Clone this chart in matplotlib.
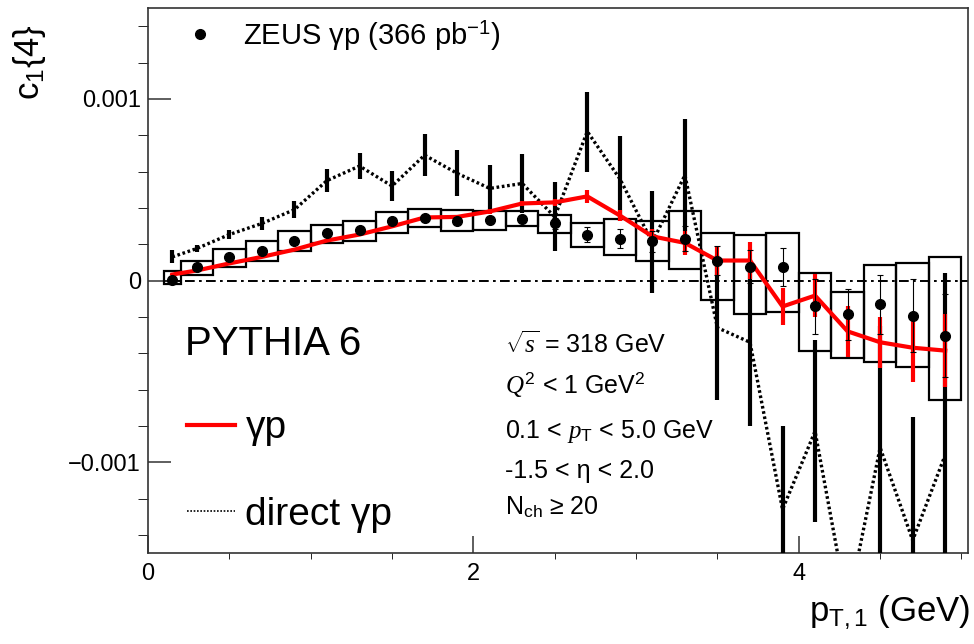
import matplotlib
matplotlib.use("Agg")
import matplotlib.pyplot as plt
from matplotlib.lines import Line2D
from matplotlib.patches import Rectangle
from matplotlib.ticker import MultipleLocator, FuncFormatter

plt.rcParams["font.family"] = ["Liberation Sans", "DejaVu Sans"]
plt.rcParams["mathtext.fontset"] = "custom"
plt.rcParams["mathtext.rm"] = "Liberation Sans"
plt.rcParams["mathtext.sf"] = "Liberation Sans"
plt.rcParams["mathtext.it"] = "Liberation Serif:italic"
plt.rcParams["mathtext.bf"] = "Liberation Sans:bold"

# ── data (c1{4} vs pT,1) ──────────────────────────────────────────────────────
pt     = [0.15, 0.3, 0.5, 0.7, 0.9, 1.1, 1.3, 1.5, 1.7, 1.9, 2.1, 2.3, 2.5,
          2.7, 2.9, 3.1, 3.3, 3.5, 3.7, 3.9, 4.1, 4.3, 4.5, 4.7, 4.9]
bin_lo = [0.1, 0.2, 0.4, 0.6, 0.8, 1.0, 1.2, 1.4, 1.6, 1.8, 2.0, 2.2, 2.4,
          2.6, 2.8, 3.0, 3.2, 3.4, 3.6, 3.8, 4.0, 4.2, 4.4, 4.6, 4.8]
bin_hi = [0.2, 0.4, 0.6, 0.8, 1.0, 1.2, 1.4, 1.6, 1.8, 2.0, 2.2, 2.4, 2.6,
          2.8, 3.0, 3.2, 3.4, 3.6, 3.8, 4.0, 4.2, 4.4, 4.6, 4.8, 5.0]

zeus      = [0.000005, 0.000077, 0.000132, 0.000165, 0.00022, 0.000259,
             0.000276, 0.000325, 0.000342, 0.000325, 0.000331, 0.000336,
             0.000314, 0.000253, 0.000231, 0.000215, 0.00023, 0.00011,
             0.000077, 0.000072, -0.000143, -0.000187, -0.000132, -0.000193,
             -0.000303]
zeus_stat = [0.000005, 0.000005, 0.000006, 0.000007, 0.000008, 0.000009,
             0.00001, 0.000012, 0.000014, 0.000016, 0.00002, 0.000022,
             0.000028, 0.00004, 0.00005, 0.00006, 0.00007, 0.00008, 0.00009,
             0.000105, 0.00015, 0.00014, 0.00016, 0.0002, 0.00023]
sys_hi    = [0.00005, 0.000105, 0.000171, 0.000215, 0.00027, 0.000303,
             0.000325, 0.000375, 0.000391, 0.000386, 0.00038, 0.00038,
             0.000358, 0.000314, 0.000336, 0.000325, 0.00038, 0.000259,
             0.000248, 0.000264, 0.000039, -0.000066, 0.000088, 0.000099,
             0.000127]
sys_lo    = [-0.000022, 0.000028, 0.000077, 0.000105, 0.00016, 0.000204,
             0.00022, 0.000264, 0.000292, 0.00027, 0.000276, 0.000298,
             0.000264, 0.000187, 0.000138, 0.000105, 0.000061, -0.000105,
             -0.000187, -0.000171, -0.000386, -0.000424, -0.000446,
             -0.000474, -0.000656]

pythia     = [0.000033, 0.000055, 0.000094, 0.00013, 0.00017, 0.00022,
              0.000253, 0.000298, 0.000347, 0.00035, 0.00038, 0.000424,
              0.00043, 0.000463, 0.000358, 0.000243, 0.000207, 0.00011,
              0.00011, -0.000143, -0.000083, -0.00028, -0.00034, -0.00037,
              -0.000386]
pythia_err = [0.000004, 0.000005, 0.000006, 0.000007, 0.000008, 0.000009,
              0.00001, 0.000011, 0.000012, 0.000013, 0.000014, 0.000016,
              0.000018, 0.000037, 0.00003, 0.00004, 0.000064, 0.000078,
              0.000104, 0.000104, 0.00012, 0.00014, 0.00014, 0.00019, 0.0002]

direct     = [0.00013, 0.000176, 0.000253, 0.000314, 0.00039, 0.00055,
              0.00063, 0.00052, 0.00069, 0.00059, 0.000507, 0.000534,
              0.00035, 0.00082, 0.00056, 0.00021, 0.00058, -0.00026,
              -0.00034, -0.00126, -0.00083, -0.0018, -0.00092, -0.00143,
              -0.00096]
direct_err = [0.000036, 0.00002, 0.000023, 0.000037, 0.000048, 0.000062,
              0.000074, 0.000085, 0.000115, 0.000126, 0.000129, 0.00016,
              0.00019, 0.00022, 0.000234, 0.00028, 0.00031, 0.0004, 0.00046,
              0.00046, 0.0005, 0.00025, 0.00067, 0.00068, 0.001]

x_ticks = [0, 2, 4]
y_ticks = [-0.001, 0, 0.001]

AXC = "#333333"

fig = plt.figure(figsize=(9.74, 6.44), dpi=100)
ax = fig.add_axes([148 / 974, 91 / 644, 820 / 974, 545 / 644])
ax.set_xlim(0, 5.04)
ax.set_ylim(-0.0015, 0.0015)

# systematic boxes
for lo, hi, b, t in zip(bin_lo, bin_hi, sys_lo, sys_hi):
    ax.add_patch(Rectangle((lo, b), hi - lo, t - b, fill=False,
                           ec="black", lw=1.6, zorder=2))

# zero reference line
ax.hlines(0, bin_lo[0], 5.04, colors="black", lw=1.4,
          linestyles=[(0, (5, 2.2, 1.4, 2.2))], zorder=1)

# PYTHIA direct gamma-p
ax.plot(pt, direct, color="black", lw=2.4, ls=(0, (0.8, 0.8)), zorder=3)
ax.errorbar(pt, direct, yerr=direct_err, fmt="none", ecolor="black",
            elinewidth=3.0, capsize=0, zorder=3)

# PYTHIA gamma-p
ax.plot(pt, pythia, color="#ff0000", lw=3.0, zorder=4)
ax.errorbar(pt, pythia, yerr=pythia_err, fmt="none", ecolor="#ff0000",
            elinewidth=3.0, capsize=0, zorder=4)

# ZEUS data
ax.errorbar(pt, zeus, yerr=zeus_stat, fmt="o", color="black", ms=7,
            elinewidth=0.8, capsize=2.5, capthick=0.8, zorder=5)

# ── axes style ────────────────────────────────────────────────────────────────
for s in ax.spines.values():
    s.set_color(AXC)
    s.set_linewidth(1.2)
ax.set_xticks(x_ticks)
ax.set_yticks(y_ticks)
ax.xaxis.set_minor_locator(MultipleLocator(0.5))
ax.yaxis.set_minor_locator(MultipleLocator(0.0002))
ax.yaxis.set_major_formatter(FuncFormatter(
    lambda v, p: "0" if abs(v) < 1e-12 else f"{v:.3f}".replace("-", "\u2212")))
ax.tick_params(direction="in", colors=AXC, labelcolor="black", width=1.1,
               labelsize=17)
ax.tick_params(axis="x", which="major", length=12, pad=7)
ax.tick_params(axis="x", which="minor", length=4.5)
ax.tick_params(axis="y", which="major", length=16.5, pad=5)
ax.tick_params(axis="y", which="minor", length=7)

fig.text(30 / 974, 1 - 62 / 644, r"c$_{\mathrm{1}}${4}", rotation=90,
         ha="center", va="center", fontsize=25)
fig.text(970 / 974, 1 - 621 / 644, r"p$_{\mathrm{T,1}}$ (GeV)",
         ha="right", va="baseline", fontsize=25)

# ZEUS legend
leg1 = ax.legend(
    handles=[Line2D([], [], ls="none", marker="o", color="black", ms=7)],
    labels=[r"ZEUS γp (366 pb$^{\mathrm{-1}}$)"],
    loc="upper left", bbox_to_anchor=(0.046, 0.98), frameon=False,
    fontsize=21, handlelength=1.0, handletextpad=0.95,
    borderpad=0, borderaxespad=0)
ax.add_artist(leg1)

# PYTHIA legend
ax.text(0.045, 0.363, "PYTHIA 6", transform=ax.transAxes,
        ha="left", va="baseline", fontsize=29)
ax.legend(
    handles=[Line2D([], [], color="#ff0000", lw=3.0),
             Line2D([], [], color="black", lw=1.2, ls=(0, (1, 1)))],
    labels=["γp", "direct γp"],
    loc="upper left", bbox_to_anchor=(0.0476, 0.262), frameon=False,
    fontsize=28, handlelength=1.24, handletextpad=0.26, labelspacing=1.3,
    borderpad=0, borderaxespad=0)

# cuts
cuts = [r"$\sqrt{s}$ = 318 GeV",
        r"$Q^{\mathrm{2}}$ < 1 GeV$^{\mathrm{2}}$",
        r"0.1 < $p_{\mathrm{T}}$ < 5.0 GeV",
        "-1.5 < η < 2.0",
        r"N$_{\mathrm{ch}}$ ≥ 20"]
cut_y = [0.367, 0.294, 0.211, 0.138, 0.070]
for s, yy in zip(cuts, cut_y):
    ax.text(0.435, yy, s, transform=ax.transAxes, ha="left",
            va="baseline", fontsize=18)

fig.savefig("out.png", dpi=100)
